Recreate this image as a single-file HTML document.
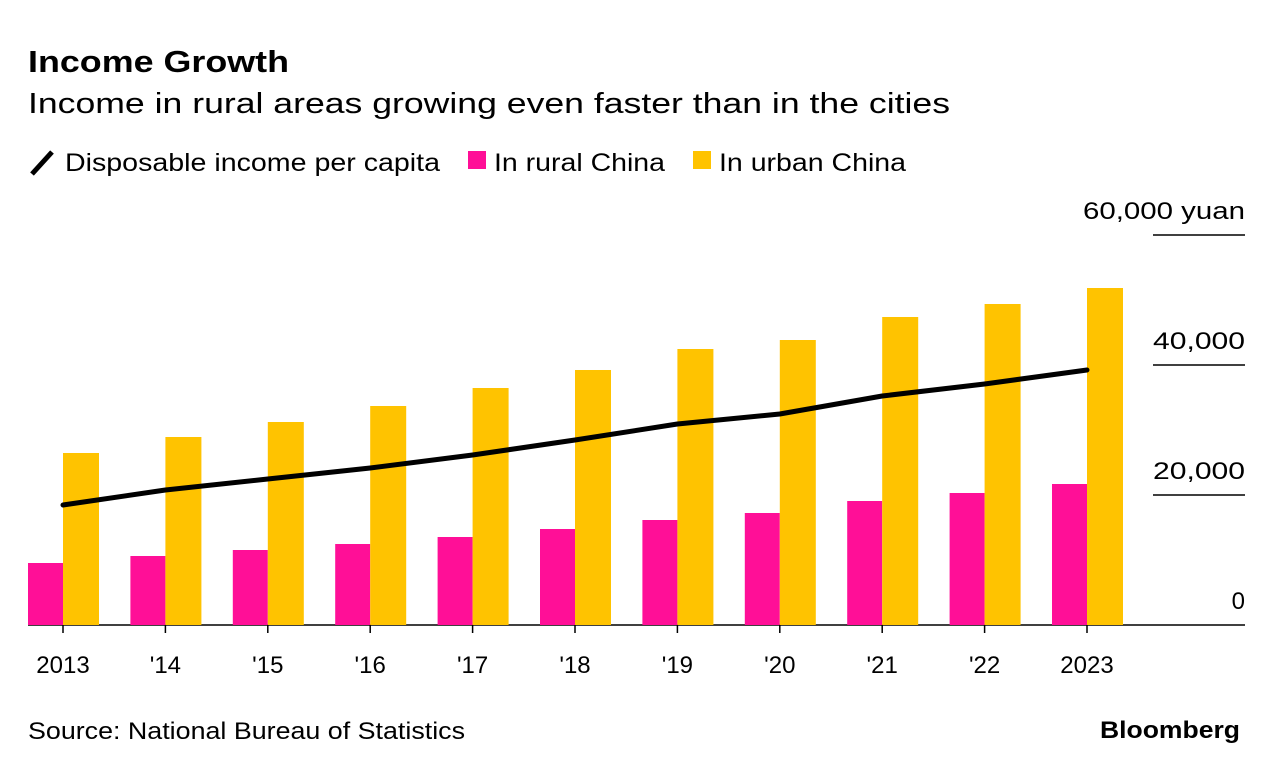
<!DOCTYPE html>
<html><head><meta charset="utf-8"><style>
body{margin:0;background:#fff;font-family:"Liberation Sans",sans-serif;}
svg text{font-family:"Liberation Sans",sans-serif;fill:#000}
</style></head><body>
<svg width="1279" height="772">
<text x="28" y="72" font-size="31" font-weight="bold" textLength="261" lengthAdjust="spacingAndGlyphs">Income Growth</text>
<text x="28" y="113" font-size="29" textLength="922" lengthAdjust="spacingAndGlyphs">Income in rural areas growing even faster than in the cities</text>
<g>
<line x1="32" y1="174" x2="52" y2="152" stroke="#000" stroke-width="5"/>
<text x="65" y="171" font-size="25" textLength="375" lengthAdjust="spacingAndGlyphs">Disposable income per capita</text>
<rect x="468" y="151" width="18" height="18" fill="#ff0f97"/>
<text x="494" y="171" font-size="25" textLength="171" lengthAdjust="spacingAndGlyphs">In rural China</text>
<rect x="693" y="151" width="18" height="18" fill="#ffc300"/>
<text x="719" y="171" font-size="25" textLength="187" lengthAdjust="spacingAndGlyphs">In urban China</text>
</g>
<g id="plot"></g>
<text x="28" y="739" font-size="24" textLength="437" lengthAdjust="spacingAndGlyphs">Source: National Bureau of Statistics</text>
<text x="1240" y="738" font-size="24" font-weight="bold" text-anchor="end" textLength="140" lengthAdjust="spacingAndGlyphs">Bloomberg</text>
</svg>
<script>
const categories=["2013","'14","'15","'16","'17","'18","'19","'20","'21","'22","2023"];
const rural=[9538,10615,11538,12462,13538,14769,16154,17231,19077,20308,21692];
const urban=[26462,28923,31231,33692,36462,39231,42462,43846,47385,49385,51846];
const overall=[18462,20769,22462,24154,26154,28462,30923,32462,35231,37077,39231];
const yTicks=[0,20000,40000,60000];
const yTickLabels=["0","20,000","40,000","60,000 yuan"];
const NS="http://www.w3.org/2000/svg";
const g=document.getElementById('plot');
const y=v=>625-v*0.0065;
const x=i=>63+i*102.4;
function mk(t,a){const e=document.createElementNS(NS,t);for(const k in a)e.setAttribute(k,a[k]);g.appendChild(e);return e;}
yTicks.forEach((v,i)=>{
 const l=mk('line',{x1:i==0?28:1153,x2:1245,y1:y(v),y2:y(v),stroke:'#000','stroke-width':1.5});
 
 
 const t=mk('text',{x:1245,y:y(v)-16,'font-size':24,'text-anchor':'end'});
 t.textContent=yTickLabels[i];
 if(i==3){t.setAttribute('textLength',162);t.setAttribute('lengthAdjust','spacingAndGlyphs');}
 if(i==1||i==2){t.setAttribute('textLength',92);t.setAttribute('lengthAdjust','spacingAndGlyphs');}
 
 
});
categories.forEach((c,i)=>{
 const r=mk('rect',{x:x(i)-35,y:y(rural[i]),width:35,height:y(0)-y(rural[i]),fill:'#ff0f97'});
 
 
 const u=mk('rect',{x:x(i),y:y(urban[i]),width:36,height:y(0)-y(urban[i]),fill:'#ffc300'});
 
 
 const tk=mk('line',{x1:x(i),x2:x(i),y1:625,y2:633,stroke:'#000','stroke-width':1.5});
 
 
 const t=mk('text',{x:x(i),y:673,'font-size':24,'text-anchor':'middle'});
 t.textContent=c;
 
 
});
const p=mk('polyline',{points:overall.map((v,i)=>x(i)+','+y(v)).join(' '),fill:'none',stroke:'#000','stroke-width':5,'stroke-linejoin':'round','stroke-linecap':'round'});


</script>
</body></html>
